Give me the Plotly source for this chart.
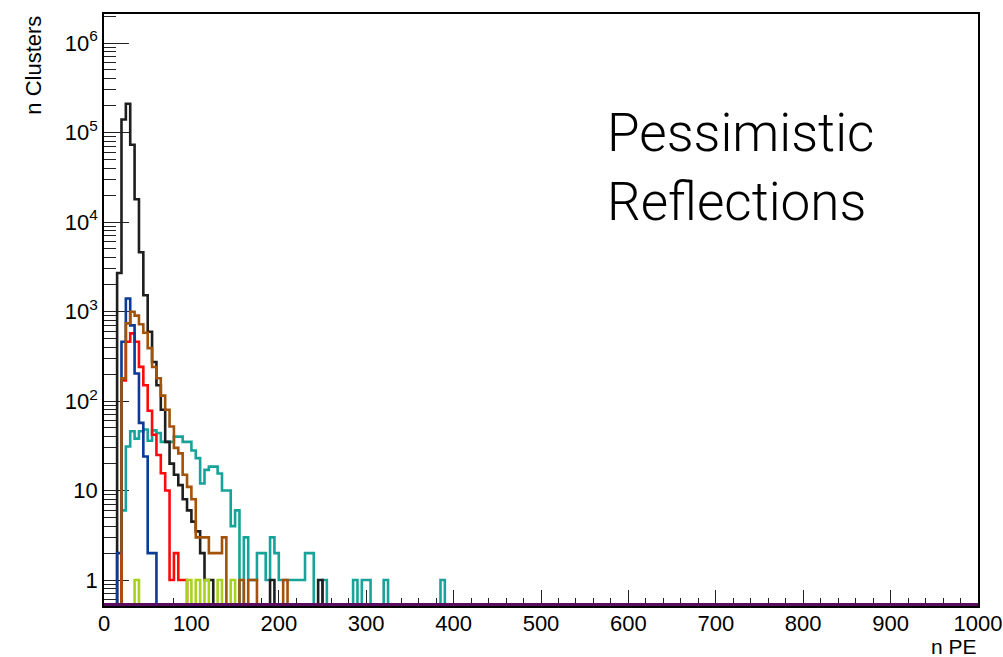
import numpy as np
import plotly.graph_objects as go

# ---------------- data (bin start in n PE, counts) ----------------
BIN_WIDTH = 5
N_BINS = 200

black_x = [15, 20, 25, 30, 35, 40, 45, 50, 55, 60, 65, 70, 75, 80, 85, 90, 95, 100, 105, 110, 115, 120, 190, 245]
black_n = [2700, 140000, 210000, 73000, 18000, 4600, 1520, 594, 273, 150, 80, 35, 20, 15, 11.5, 8, 6, 4.5, 3.5, 2, 1, 1, 1, 1]

blue_x = [15, 20, 25, 30, 35, 40, 45, 50, 55]
blue_n = [2, 460, 1400, 700, 203, 57, 24, 2, 2]

red_x = [20, 25, 30, 35, 40, 45, 50, 55, 60, 65, 70, 75, 80, 85, 90]
red_n = [170, 460, 570, 460, 241, 150, 78, 42, 25, 15.6, 10, 1, 2, 1, 1]

brown_x = [20, 25, 30, 35, 40, 45, 50, 55, 60, 65, 70, 75, 80, 85, 90, 95, 100, 105, 110, 115,
           120, 125, 130, 135, 155, 165, 170, 205]
brown_n = [179, 738, 995, 900, 720, 580, 390, 240, 180, 115, 80, 52, 30, 26, 15, 11, 8, 3, 3, 3,
           2, 2, 2, 3, 1, 1, 1, 1]

teal_x = [20, 25, 30, 35, 40, 45, 50, 55, 60, 65, 70, 75, 80, 85, 90, 95, 100, 105, 110, 115,
          120, 125, 130, 135, 140, 145, 150, 160, 165, 170, 175, 180, 185, 190, 195, 200,
          205, 210, 215, 220, 225, 230, 235, 250, 285, 295, 300, 320, 385]
teal_n = [6, 31, 46, 38, 46, 48, 36, 47, 44, 35, 35, 35, 40, 40, 35, 35, 28, 23, 12, 17,
          18.5, 18.5, 15.5, 10, 10, 4, 6, 3, 1, 1, 2, 2, 1, 3, 2, 1,
          1, 1, 1, 1, 1, 2, 2, 1, 1, 1, 1, 1, 1]

green_x = [35, 95, 105, 115, 130, 145]
green_n = [1, 1, 1, 1, 1, 1]

purple_x = []          # empty histogram, drawn on the axis floor
purple_n = []

x_ticks = list(range(0, 1001, 100))
y_ticks = [1, 10, 100, 1000, 10000, 100000, 1000000]
y_ticktext = ["1", "10", "10<sup>2</sup>", "10<sup>3</sup>", "10<sup>4</sup>", "10<sup>5</sup>", "10<sup>6</sup>"]

# ---------------- helpers ----------------
Y_LO = np.log10(0.513)
Y_HI = np.log10(2.11e6)
FLOOR = 1e-3  # empty bins drop below the frame (as ROOT does on log scale)
edges = np.arange(0, N_BINS * BIN_WIDTH + BIN_WIDTH, BIN_WIDTH)


def make_hist(xs, ns):
    h = np.zeros(N_BINS)
    for x, n in zip(xs, ns):
        h[int(x // BIN_WIDTH)] = n
    return h


def step_trace(h, color, empty_value=FLOOR, width=2.6):
    y = np.where(h > 0, h, empty_value)
    y = np.append(y, y[-1])
    return go.Scatter(x=edges, y=y, mode="lines",
                      line=dict(color=color, width=width, shape="hv"),
                      hoverinfo="skip", showlegend=False)


fig = go.Figure()
fig.add_trace(step_trace(make_hist(teal_x, teal_n), "#17a399"))
fig.add_trace(step_trace(make_hist(black_x, black_n), "#1e1e1e"))
fig.add_trace(step_trace(make_hist(red_x, red_n), "#ff0a0a"))
fig.add_trace(step_trace(make_hist(blue_x, blue_n), "#0c3a96"))
fig.add_trace(step_trace(make_hist(brown_x, brown_n), "#a3520a"))
fig.add_trace(step_trace(make_hist(green_x, green_n), "#a8d21c"))
fig.add_trace(step_trace(make_hist(purple_x, purple_n), "#5a0d5e",
                         empty_value=10 ** Y_LO, width=6))

minor_y = [k * 10 ** d for d in range(-1, 7) for k in range(2, 10)
           if Y_LO <= np.log10(k * 10 ** d) <= Y_HI]

FONT = "Liberation Sans, Arial, Helvetica, sans-serif"
FS = 22

fig.update_layout(
    width=1003, height=657,
    margin=dict(l=104, r=25, t=14, b=51, autoexpand=False),
    paper_bgcolor="white", plot_bgcolor="white",
    font=dict(family=FONT, size=FS, color="black"),
    xaxis=dict(range=[0, 1000], tickvals=x_ticks, ticks="inside", ticklen=16,
               tickwidth=1, tickcolor="#222", ticklabeloverflow="allow",
               ticklabelstandoff=-3,
               minor=dict(ticks="inside", ticklen=8, dtick=20, tickcolor="#222", tickwidth=1),
               showline=True, linecolor="black", linewidth=1.5, mirror=True,
               showgrid=False, zeroline=False, layer="below traces", automargin=False,
               tickfont=dict(family=FONT, size=FS, color="black")),
    yaxis=dict(type="log", range=[Y_LO, Y_HI], tickvals=y_ticks, ticktext=y_ticktext,
               ticks="inside", ticklen=25, tickwidth=1, tickcolor="#222",
               minor=dict(ticks="inside", ticklen=12, tickvals=minor_y, tickcolor="#222", tickwidth=1),
               showline=True, linecolor="black", linewidth=1.5, mirror=True,
               showgrid=False, zeroline=False, layer="below traces", automargin=False,
               tickfont=dict(family=FONT, size=FS, color="black")),
    annotations=[
        dict(text="n PE", xref="paper", yref="paper", x=1.0, y=-0.069,
             xanchor="right", yanchor="middle", showarrow=False, borderpad=0,
             font=dict(family=FONT, size=21, color="black")),
        dict(text="n Clusters", xref="paper", yref="paper", x=-0.081, y=1.0,
             xanchor="center", yanchor="top", textangle=-90, showarrow=False,
             font=dict(family=FONT, size=FS, color="black")),
        dict(text="Pessimistic<br>Reflections", xref="paper", yref="paper",
             x=0.573, y=0.855, xanchor="left", yanchor="top", align="left",
             showarrow=False,
             font=dict(family="Roboto, Lato, sans-serif", size=53, color="black", weight=300)),
    ],
)

fig.write_html("out.html")
